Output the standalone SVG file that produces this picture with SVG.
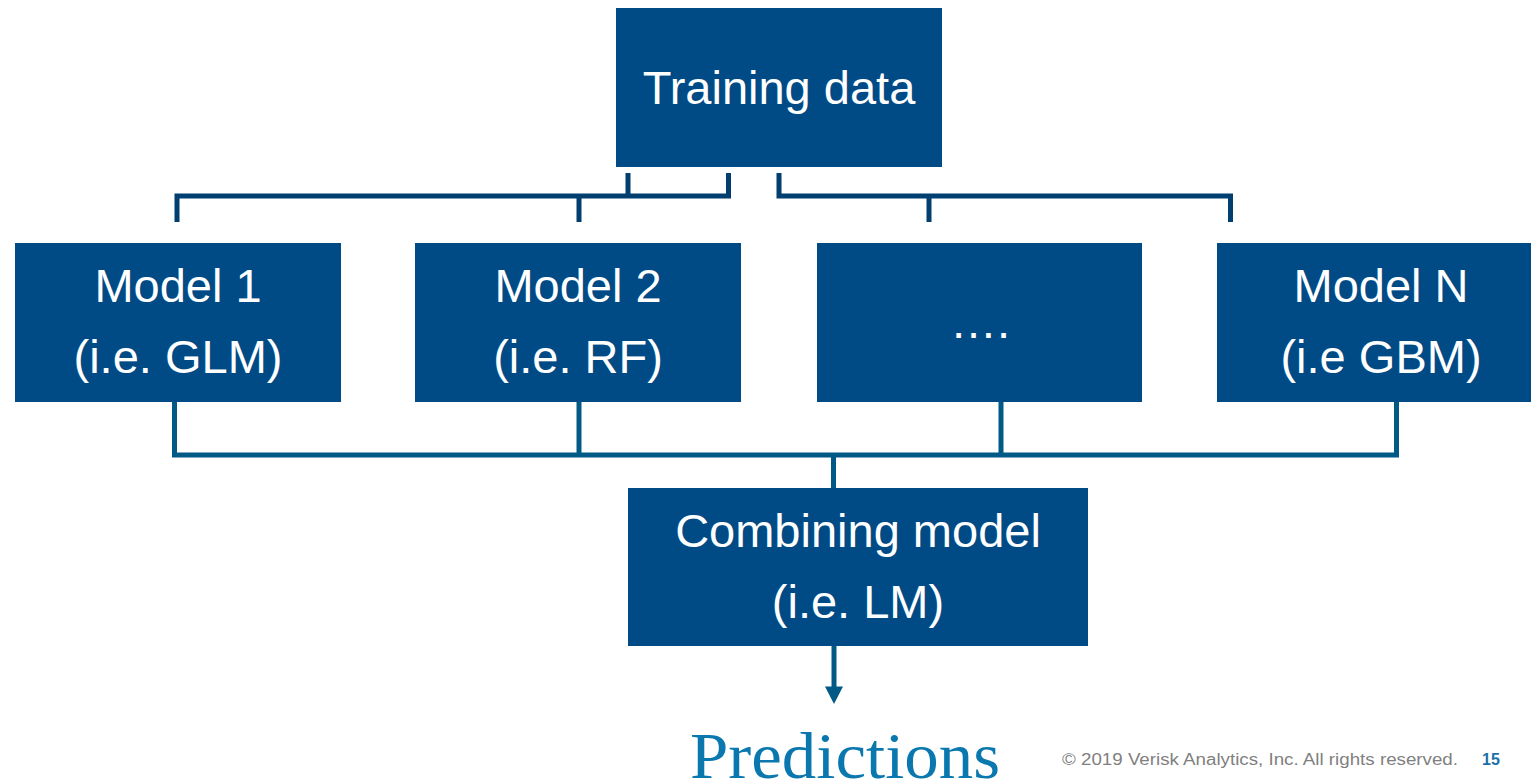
<svg xmlns="http://www.w3.org/2000/svg" width="1531" height="781" viewBox="0 0 1531 781">
  <style>
    .box { fill: #004B86; }
    .lbl { font-family: "Liberation Sans", Arial, sans-serif; font-size: 47px; fill: #FFFFFF; text-anchor: middle; }
    .split { fill: none; stroke: #003F6F; stroke-width: 5; stroke-linejoin: miter; stroke-linecap: butt; }
    .merge { fill: none; stroke: #005A85; stroke-width: 5; stroke-linejoin: miter; stroke-linecap: butt; }
  </style>
  <rect width="1531" height="781" fill="#FFFFFF"/>

  <!-- connectors -->
  <g id="connectors">
    <!-- training data fans out to the models -->
    <path class="split" d="M177,222 V196 H728.5 V173"/>
    <path class="split" d="M628,173 V196"/>
    <path class="split" d="M579,196 V222"/>
    <path class="split" d="M779,173 V196 H1230.5 V222"/>
    <path class="split" d="M929,196 V222"/>
    <!-- model outputs merge into the combining model -->
    <path class="merge" d="M174.5,402 V455 H1396.5 V402"/>
    <path class="merge" d="M579,402 V455"/>
    <path class="merge" d="M1001,402 V455"/>
    <path class="merge" d="M833.5,455 V488"/>
    <!-- output arrow -->
    <path class="merge" d="M834,646 V688" stroke-width="4.5"/>
    <polygon points="825,686.5 843,686.5 834,704" fill="#005A85"/>
  </g>

  <g id="training-data">
    <rect class="box" x="616" y="8" width="326" height="159"/>
    <text class="lbl" x="779" y="103.5">Training data</text>
  </g>

  <g id="model-1">
    <rect class="box" x="15" y="243" width="326" height="159"/>
    <text class="lbl" x="178" y="302">Model 1</text>
    <text class="lbl" x="178" y="373">(i.e. GLM)</text>
  </g>

  <g id="model-2">
    <rect class="box" x="415" y="243" width="326" height="159"/>
    <text class="lbl" x="578" y="302">Model 2</text>
    <text class="lbl" x="578" y="373">(i.e. RF)</text>
  </g>

  <g id="model-more">
    <rect class="box" x="817" y="243" width="325" height="159"/>
    <text class="lbl" x="980" y="338">….</text>
  </g>

  <g id="model-n">
    <rect class="box" x="1217" y="243" width="326" height="159"/>
    <text class="lbl" x="1381" y="302">Model N</text>
    <text class="lbl" x="1381" y="373">(i.e GBM)</text>
  </g>

  <g id="combining-model">
    <rect class="box" x="628" y="488" width="460" height="158"/>
    <text class="lbl" x="858" y="547">Combining model</text>
    <text class="lbl" x="858" y="618">(i.e. LM)</text>
  </g>

  <g id="predictions">
    <text x="690" y="778" textLength="310" lengthAdjust="spacingAndGlyphs" font-family="'Liberation Serif', 'DejaVu Serif', serif" font-size="66" fill="#0A78AE">Predictions</text>
  </g>

  <g id="footer">
    <text x="1062" y="765" textLength="396" lengthAdjust="spacingAndGlyphs" font-family="'Liberation Sans', Arial, sans-serif" font-size="16" fill="#7F7F7F">© 2019 Verisk Analytics, Inc. All rights reserved.</text>
    <text x="1482" y="765" font-family="'Liberation Sans', Arial, sans-serif" font-size="16" font-weight="bold" fill="#1A6FA8">15</text>
  </g>
</svg>
